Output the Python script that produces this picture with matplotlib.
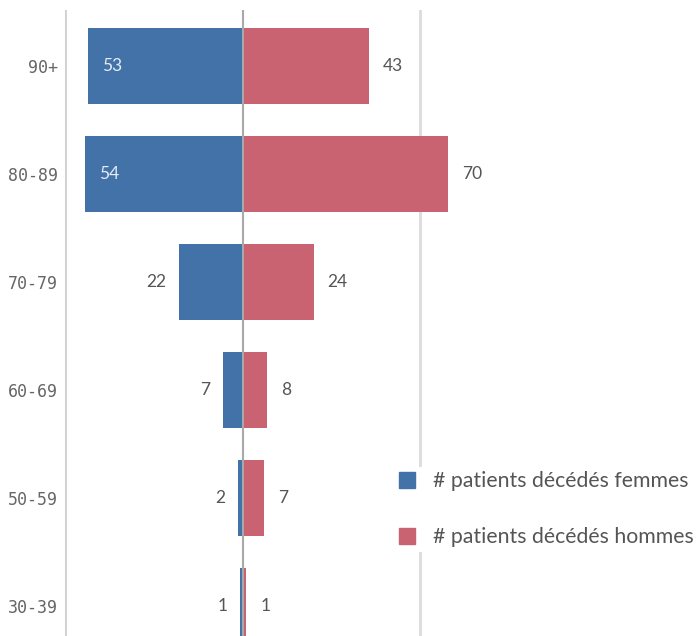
import matplotlib.pyplot as plt
from matplotlib.patches import Patch

# data, top row first
age_groups = ["90+", "80-89", "70-79", "60-69", "50-59", "30-39"]
femmes = [53, 54, 22, 7, 2, 1]
hommes = [43, 70, 24, 8, 7, 1]

blue = "#4272a8"
red = "#c96371"

fig = plt.figure(figsize=(6.98, 6.36), dpi=100)
ax = fig.add_axes([65 / 698, 0, 633 / 698, 626 / 636])

ypos = list(range(len(age_groups)))
ax.barh(ypos, [-v for v in femmes], height=0.7, color=blue, zorder=3)
ax.barh(ypos, hommes, height=0.7, color=red, zorder=3)

# value labels
for y, f, h in zip(ypos, femmes, hommes):
    if f >= 40:
        ax.annotate(str(f), (-f, y), xytext=(10, 0), textcoords="offset points",
                    ha="left", va="center", color="#e6ecf5", fontsize=12.5, family="Lato", zorder=4)
    else:
        ax.annotate(str(f), (-f, y), xytext=(-9, 0), textcoords="offset points",
                    ha="right", va="center", color="#555555", fontsize=12.5, family="Lato", zorder=4)
    ax.annotate(str(h), (h, y), xytext=(10, 0), textcoords="offset points",
                ha="left", va="center", color="#555555", fontsize=12.5, family="Lato", zorder=4)

ax.set_xlim(-61, 155.5)
ax.set_ylim(len(age_groups) - 0.72, -0.52)

# grid lines
ax.axvline(-61, color="#d0d0d0", lw=2, zorder=1)
ax.axvline(60.5, color="#dcdcdc", lw=2, zorder=1)
ax.axvline(0, color="#a8a8a8", lw=1.5, zorder=5)

ax.set_yticks(ypos)
ax.set_yticklabels(age_groups, family="DejaVu Sans Mono", fontsize=12, color="#666666")
ax.tick_params(axis="y", length=0, pad=5)
ax.set_xticks([])
for s in ax.spines.values():
    s.set_visible(False)

handles = [Patch(color=blue, label="# patients décédés femmes"),
           Patch(color=red, label="# patients décédés hommes")]
leg = fig.legend(handles=handles, loc="upper left", bbox_to_anchor=(395 / 698, 1 - 467 / 636),
                 frameon=True, facecolor="white", edgecolor="none", framealpha=1,
                 prop={"family": "Lato", "size": 15.3}, handlelength=0.75, handleheight=0.75,
                 handletextpad=0.85, labelspacing=1.7, borderpad=0.2, borderaxespad=0)
for t in leg.get_texts():
    t.set_color("#555555")

fig.savefig("out.png", dpi=100)
